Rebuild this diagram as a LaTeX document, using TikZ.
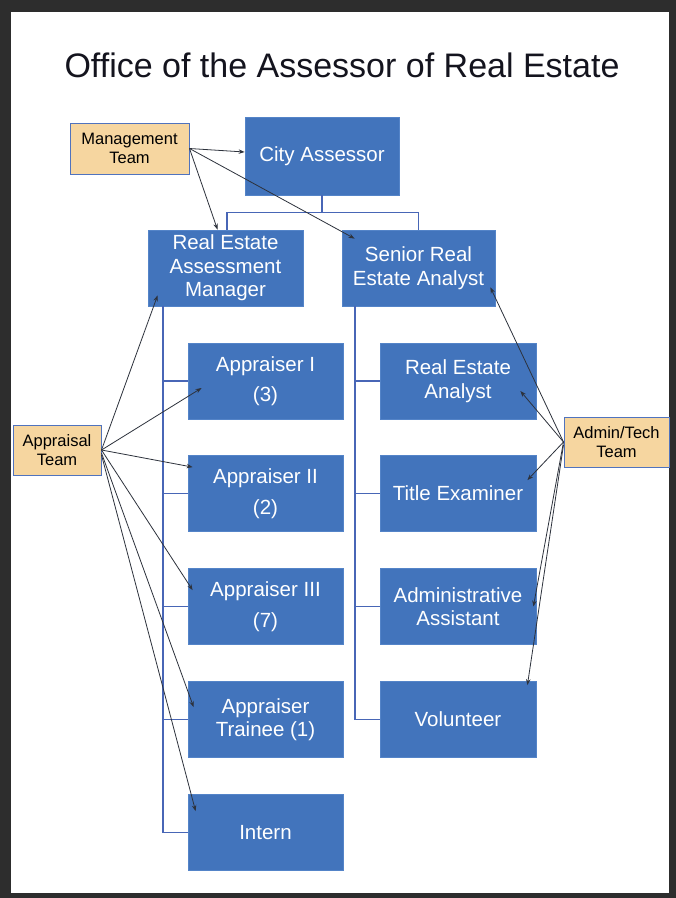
\documentclass[tikz,border=0pt]{standalone}
\usepackage{fontspec}
\setmainfont{Liberation Sans}
\usetikzlibrary{arrows.meta}
\definecolor{framegray}{RGB}{45,45,45}
\definecolor{boxblue}{RGB}{66,116,188}
\definecolor{boxedge}{RGB}{84,132,200}
\definecolor{tan}{RGB}{246,214,160}
\definecolor{tanedge}{RGB}{80,115,190}
\definecolor{treeline}{RGB}{72,102,182}
\definecolor{arrowgray}{RGB}{45,50,60}
\tikzset{
  orgbox/.style={rectangle, fill=boxblue, draw=boxedge, line width=0.8pt,
    text=white, align=center, inner sep=2pt,
    font=\fontsize{20.5}{23.5}\selectfont},
  teambox/.style={rectangle, fill=tan, draw=tanedge, line width=1pt,
    text=black, align=center, inner sep=1pt,
    font=\fontsize{16.5}{19}\selectfont},
  tree/.style={draw=treeline, line width=1.2pt},
  link/.style={draw=arrowgray, line width=0.8pt,
    -{Stealth[length=6pt,width=4.5pt]}},
}
\begin{document}
\begin{tikzpicture}[x=1pt,y=-1pt]
\useasboundingbox (0,0) rectangle (676,898);
\fill[framegray] (0,0) rectangle (676,898);
\fill[white] (11,12) rectangle (669,893);

\node[anchor=base, font=\fontsize{34}{40}\selectfont, text={rgb,255:red,20;green,20;blue,30}] (title) at (342,77) {Office of the Assessor of Real Estate};

% main boxes
\node[orgbox, minimum width=154pt, minimum height=78pt] (CA) at (322,156) {City Assessor};
\node[orgbox, minimum width=155pt, minimum height=76pt] (REAM) at (225.5,268) {Real Estate\\Assessment\\Manager};
\node[orgbox, minimum width=153pt, minimum height=76pt] (SREA) at (418.5,268) {Senior Real\\Estate Analyst};

\node[orgbox, minimum width=155pt, minimum height=76pt] (AI) at (265.5,381) {Appraiser I\\[7pt](3)};
\node[orgbox, minimum width=155pt, minimum height=76pt] (AII) at (265.5,493.5) {Appraiser II\\[7pt](2)};
\node[orgbox, minimum width=155pt, minimum height=76pt] (AIII) at (265.5,606.5) {Appraiser III\\[7pt](7)};
\node[orgbox, minimum width=155pt, minimum height=76pt] (AT1) at (265.5,719.5) {Appraiser\\Trainee (1)};
\node[orgbox, minimum width=155pt, minimum height=76pt] (INT) at (265.5,832.5) {Intern};

\node[orgbox, minimum width=156pt, minimum height=76pt] (REA) at (458,381) {Real Estate\\Analyst};
\node[orgbox, minimum width=156pt, minimum height=76pt] (TE) at (458,493.5) {Title Examiner};
\node[orgbox, minimum width=156pt, minimum height=76pt] (AA) at (458,606.5) {Administrative\\Assistant};
\node[orgbox, minimum width=156pt, minimum height=76pt] (VOL) at (458,719.5) {Volunteer};

% team boxes
\node[teambox, minimum width=119pt, minimum height=51pt] (MT) at (129.5,148.5) {Management\\Team};
\node[teambox, minimum width=88pt, minimum height=50pt] (APT) at (57,450) {Appraisal\\Team};
\node[teambox, minimum width=105pt, minimum height=50pt] (ADT) at (616.5,442) {Admin/Tech\\Team};

% org tree
\draw[tree] (CA.south) -- ++(0,17) coordinate (j);
\draw[tree] ([xshift=1.5pt]REAM.north) |- (j) -| (SREA.north);
\coordinate (lv) at (163,306);
\coordinate (rv) at (355,306);
\draw[tree] (lv) |- (INT.west);
\foreach \b in {AI,AII,AIII,AT1} \draw[tree] (\b.west) -- (\b.west -| lv);
\draw[tree] (rv) |- (VOL.west);
\foreach \b in {REA,TE,AA} \draw[tree] (\b.west) -- (\b.west -| rv);

% management links
\draw[link] (MT.east) -- ([yshift=4pt]CA.west);
\draw[link] (MT.east) -- ([xshift=-8pt]REAM.north);
\draw[link] (MT.east) -- ([xshift=13pt,yshift=-9pt]SREA.north west);

% appraisal links
\draw[link] (APT.east) -- ([xshift=10pt,yshift=11pt]REAM.south west);
\draw[link] (APT.east) -- ([xshift=14pt,yshift=-7pt]AI.west);
\draw[link] (APT.east) -- ([xshift=5pt,yshift=-12pt]AII.north west);
\draw[link] (APT.east) -- ([xshift=5pt,yshift=-22pt]AIII.north west);
\draw[link] ([yshift=-3pt]APT.east) -- ([xshift=6pt,yshift=-26pt]AT1.north west);
\draw[link] ([yshift=-5pt]APT.east) -- ([xshift=8pt,yshift=-17pt]INT.north west);

% admin links
\draw[link] (ADT.west) -- ([xshift=-5pt,yshift=19pt]SREA.south east);
\draw[link] (ADT.west) -- ([xshift=-16pt,yshift=-10pt]REA.east);
\draw[link] (ADT.west) -- ([xshift=-9pt,yshift=-25pt]TE.north east);
\draw[link] (ADT.west) -- ([xshift=-3pt]AA.east);
\draw[link] ([yshift=-3pt]ADT.west) -- ([xshift=-9pt,yshift=-4pt]VOL.north east);
\end{tikzpicture}
\end{document}
